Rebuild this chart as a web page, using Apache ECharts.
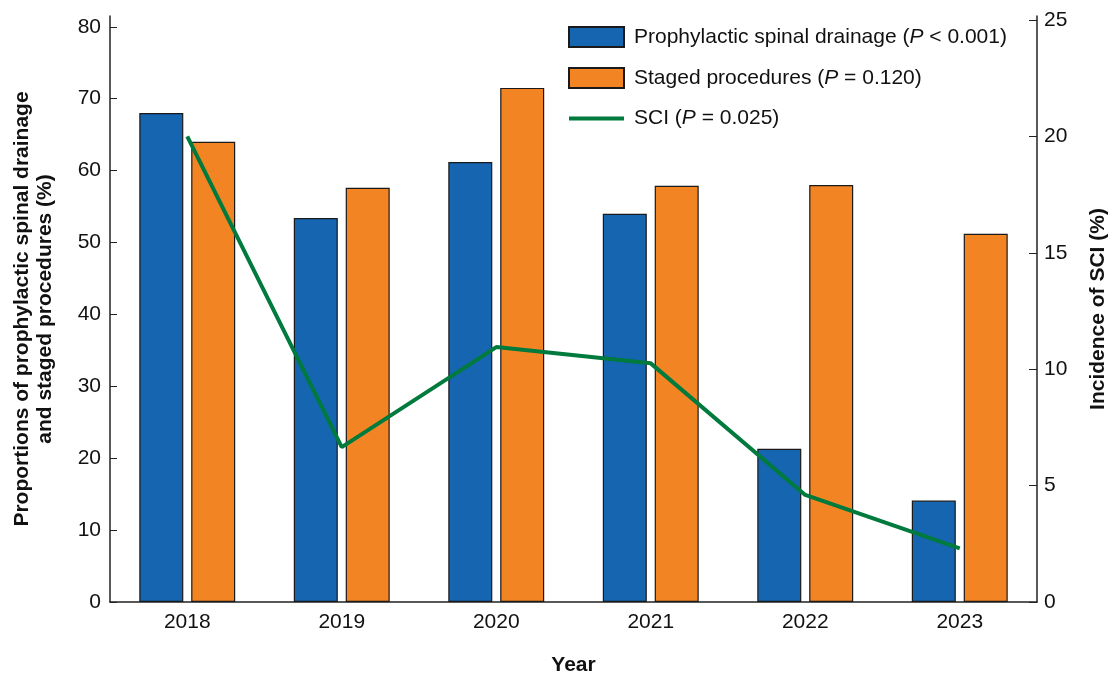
<!DOCTYPE html>
<html><head><meta charset="utf-8">
<script src="https://cdn.jsdelivr.net/npm/echarts@6/dist/echarts.min.js"></script>
<style>html,body{margin:0;padding:0;background:#fff}#c{width:1110px;height:675px}</style>
</head><body><div id="c"></div>
<script>
const years = ['2018','2019','2020','2021','2022','2023'];
const drainage = [68.0, 53.4, 61.2, 54.0, 21.3, 14.1];
const staged = [64.0, 57.6, 71.5, 57.9, 58.0, 51.2];
const sci = [20.0, 6.65, 10.95, 10.25, 4.6, 2.3];
const leftTicks = [0,10,20,30,40,50,60,70,80];
const rightTicks = [0,5,10,15,20,25];
const seriesNames = ['Prophylactic spinal drainage (P < 0.001)', 'Staged procedures (P = 0.120)', 'SCI (P = 0.025)'];

const font = 'Liberation Sans, Arial, sans-serif';
const fs = 21;
const chart = echarts.init(document.getElementById('c'));
const leftMax = 81.5, rightMax = 25.17;
chart.setOption({
  animation: false,
  textStyle: {fontFamily: font},
  grid: {left: 110, right: 73, top: 16, bottom: 73, containLabel: false, outerBoundsMode: 'none'},
  legend: {
    orient: 'vertical', left: 562, top: 21, itemWidth: 55, itemHeight: 20, itemGap: 19, itemTextGap: 10,
    data: [
      {name: seriesNames[0], icon: 'rect'},
      {name: seriesNames[1], icon: 'rect'},
      {name: seriesNames[2], itemStyle: {opacity: 0}, lineStyle: {width: 4, color: '#007a3d'}}
    ],
    textStyle: {fontSize: fs, color: '#111', fontFamily: font,
      rich: {
        f: {fontSize: fs, color: '#111', fontFamily: font, padding: [0, 0, 0, 5]},
        i: {fontStyle: 'italic', fontSize: fs, color: '#111', fontFamily: font},
        n: {fontSize: fs, color: '#111', fontFamily: font}
      }},
    formatter: function (name) {
      const parts = name.split('(P');
      return '{f|' + parts[0] + '(}{i|P}{n|' + parts[1] + '}';
    }
  },
  xAxis: {
    type: 'category', data: years, name: 'Year', nameLocation: 'middle', nameGap: 53,
    nameTextStyle: {fontSize: fs, fontWeight: 'bold', color: '#111'},
    axisLine: {lineStyle: {color: '#222', width: 1.5}}, axisTick: {show: false},
    axisLabel: {fontSize: fs, color: '#111', margin: 10}
  },
  yAxis: [{
    type: 'value', min: 0, max: leftMax, interval: 10,
    name: 'Proportions of prophylactic spinal drainage\nand staged procedures (%)',
    nameLocation: 'middle', nameGap: 53, nameRotate: 90,
    nameTextStyle: {fontSize: fs, fontWeight: 'bold', color: '#111', lineHeight: 23},
    axisLine: {show: true, lineStyle: {color: '#222', width: 1.5}},
    axisTick: {show: true, inside: true, length: 7, lineStyle: {color: '#222'}},
    splitLine: {show: false},
    axisLabel: {fontSize: fs, color: '#111', margin: 9, showMaxLabel: false,
      formatter: v => leftTicks.indexOf(v) >= 0 ? String(v) : ''}
  }, {
    type: 'value', min: 0, max: rightMax, interval: 5,
    name: 'Incidence of SCI (%)', nameLocation: 'middle', nameGap: 51, nameRotate: 90,
    nameTextStyle: {fontSize: fs, fontWeight: 'bold', color: '#111'},
    axisLine: {show: true, lineStyle: {color: '#222', width: 1.5}},
    axisTick: {show: true, inside: true, length: 8, lineStyle: {color: '#222'}},
    splitLine: {show: false},
    axisLabel: {fontSize: fs, color: '#111', margin: 7, showMaxLabel: false,
      formatter: v => rightTicks.indexOf(v) >= 0 ? String(v) : ''}
  }],
  series: [{
    name: seriesNames[0], type: 'bar', data: drainage,
    barWidth: 44, barGap: '18%',
    itemStyle: {color: '#1565b0', borderColor: '#1a1a1a', borderWidth: 1.2}
  }, {
    name: seriesNames[1], type: 'bar', data: staged,
    barWidth: 44,
    itemStyle: {color: '#f38424', borderColor: '#1a1a1a', borderWidth: 1.2}
  }, {
    name: seriesNames[2], type: 'line', yAxisIndex: 1, data: sci,
    symbol: 'none', lineStyle: {color: '#007a3d', width: 4}, itemStyle: {color: '#007a3d'}, z: 5
  }]
});
</script></body></html>
